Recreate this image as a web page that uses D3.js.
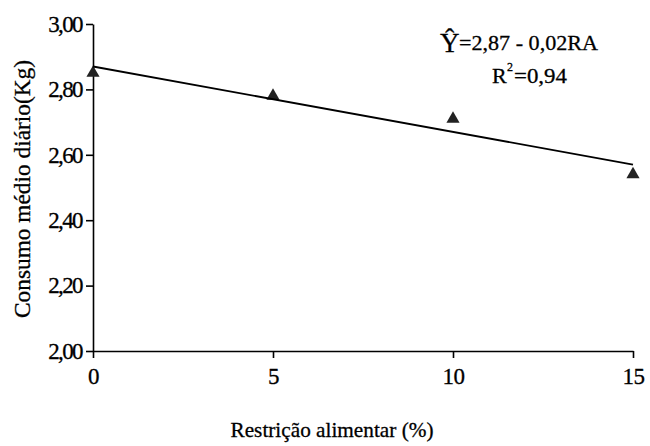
<!DOCTYPE html>
<meta charset="utf-8">
<script src="https://d3js.org/d3.v7.min.js"></script>
<body style="margin:0;background:#fff">
<div id="chart"></div>
<script>
// data
var restricao = [0, 5, 10, 15];
var consumo = [2.85, 2.78, 2.71, 2.54];
var yTicks = [2.00, 2.20, 2.40, 2.60, 2.80, 3.00];
var xTicks = [0, 5, 10, 15];
var intercept = 2.87, slope = -0.02;

var W = 650, H = 446;
var margin = {top: 24, right: 17, bottom: 95, left: 93};

var svg = d3.select("#chart").append("svg")
  .attr("width", W).attr("height", H);

var x = d3.scaleLinear().domain([0, 15]).range([margin.left, W - margin.right]);
var y = d3.scaleLinear().domain([2, 3]).range([H - margin.bottom, margin.top]);

var fmt = function(d) { return d3.format(".2f")(d).replace(".", ","); };

// Y axis
var gy = svg.append("g")
  .attr("transform", "translate(" + margin.left + ",0)")
  .call(d3.axisLeft(y).tickValues(yTicks).tickFormat(fmt).tickSizeInner(7).tickSizeOuter(0).tickPadding(4));
gy.select(".domain").attr("stroke", "#000").attr("stroke-width", 1.6);
gy.selectAll(".tick line").attr("stroke", "#000").attr("stroke-width", 1.6);
gy.selectAll(".tick text").style("font-size", "23px").style("letter-spacing", "-1.6px");

// X axis
var gx = svg.append("g")
  .attr("transform", "translate(0," + (H - margin.bottom) + ")")
  .call(d3.axisBottom(x).tickValues(xTicks).tickSizeInner(7).tickSizeOuter(0).tickPadding(10));
gx.select(".domain").attr("stroke", "#000").attr("stroke-width", 1.6);
gx.selectAll(".tick line").attr("stroke", "#000").attr("stroke-width", 1.6);
gx.selectAll(".tick text").style("font-size", "23px").style("letter-spacing", "-0.5px");

// axis titles
svg.append("text")
  .attr("transform", "translate(30," + 189 + ") rotate(-90)")
  .attr("text-anchor", "middle")
  .style("font-size", "23px")
  .attr("textLength", 258)
  .attr("lengthAdjust", "spacingAndGlyphs")
  .text("Consumo médio diário(Kg)");

svg.append("text")
  .attr("x", 332).attr("y", 437)
  .attr("text-anchor", "middle")
  .style("font-size", "22px")
  .attr("textLength", 203)
  .attr("lengthAdjust", "spacingAndGlyphs")
  .text("Restrição alimentar (%)");

// points
svg.append("g").selectAll("path")
  .data(restricao)
  .enter().append("path")
    .attr("d", d3.symbol().type(d3.symbolTriangle).size(75))
    .attr("transform", function(d, i) { return "translate(" + x(d) + "," + y(consumo[i]) + ")"; })
    .attr("fill", "#222");

// regression line
var ends = [0, 15];
svg.append("path")
  .datum(ends)
  .attr("fill", "none")
  .attr("stroke", "#000")
  .attr("stroke-width", 1.8)
  .attr("d", d3.line()
    .x(function(d) { return x(d); })
    .y(function(d) { return y(intercept + slope * d); }));

// equation
svg.append("text")
  .attr("x", 440).attr("y", 52)
  .style("font-size", "27px")
  .text("Ŷ");
svg.append("text")
  .attr("x", 459).attr("y", 50)
  .style("font-size", "22px")
  .attr("textLength", 139)
  .attr("lengthAdjust", "spacingAndGlyphs")
  .text("=2,87 - 0,02RA");

svg.append("text")
  .attr("x", 492).attr("y", 83)
  .style("font-size", "22px")
  .text("R");
svg.append("text")
  .attr("x", 507).attr("y", 71)
  .style("font-size", "12px")
  .text("2");
svg.append("text")
  .attr("x", 514).attr("y", 83)
  .style("font-size", "22px")
  .attr("textLength", 53)
  .attr("lengthAdjust", "spacingAndGlyphs")
  .text("=0,94");

// serif face on every label, set inline
svg.selectAll("g").attr("font-family", null);
svg.selectAll("text")
  .style("font-family", "'Liberation Serif'")
  .attr("fill", "#000")
  .style("stroke", "#000")
  .style("stroke-width", "0.3px");
</script>
</body>
